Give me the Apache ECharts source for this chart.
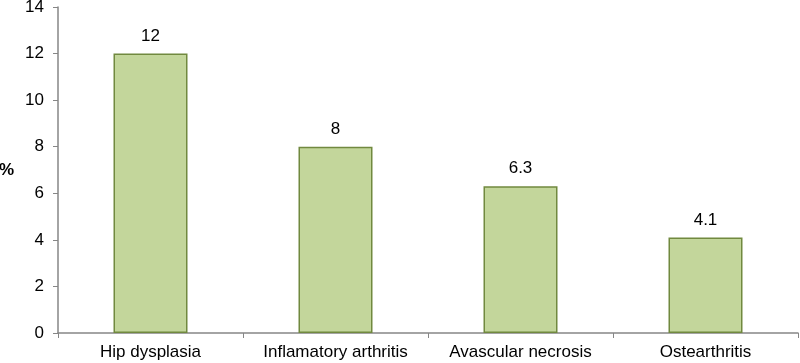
<!DOCTYPE html>
<html>
<head>
<meta charset="utf-8">
<script src="https://cdn.jsdelivr.net/npm/echarts@6/dist/echarts.min.js"></script>
<style>
  html, body { margin: 0; padding: 0; background: #fff; }
  #chart { width: 800px; height: 363px; }
</style>
</head>
<body>
<div id="chart"></div>
<script>
const categories = ['Hip dysplasia', 'Inflamatory arthritis', 'Avascular necrosis', 'Ostearthritis'];
const values = [12, 8, 6.3, 4.1];
const yTicks = { min: 0, max: 14, interval: 2 };

const axisColor = '#868686';
const fontFamily = 'Liberation Sans, Arial, sans-serif';

let chart = echarts.init(document.getElementById('chart'));
chart.setOption({
  animation: false,
  backgroundColor: '#fff',
  textStyle: { fontFamily: fontFamily },
  grid: { left: 58, right: 2, top: 7, bottom: 30, containLabel: false, outerBoundsMode: 'none' },
  xAxis: {
    type: 'category',
    data: categories,
    axisLine: { lineStyle: { color: axisColor, width: 1.5 } },
    axisTick: { show: true, interval: 0, alignWithLabel: false, length: 5, lineStyle: { color: axisColor } },
    axisLabel: { interval: 0, hideOverlap: false, color: '#000', fontSize: 17, margin: 11, fontFamily: fontFamily }
  },
  yAxis: {
    type: 'value',
    min: yTicks.min,
    max: yTicks.max,
    interval: yTicks.interval,
    name: '%',
    nameLocation: 'middle',
    nameRotate: 0,
    nameGap: 44,
    nameTextStyle: { color: '#000', fontSize: 17, fontWeight: 'bold', fontFamily: fontFamily },
    axisLine: { show: true, lineStyle: { color: axisColor, width: 1.5 } },
    axisTick: { show: true, length: 5, lineStyle: { color: axisColor } },
    axisLabel: { color: '#000', fontSize: 17, margin: 14, fontFamily: fontFamily },
    splitLine: { show: false }
  },
  series: [{
    type: 'bar',
    data: values,
    barCategoryGap: '60%',
    itemStyle: { color: '#c3d69b', borderColor: '#71893f', borderWidth: 1.5 },
    label: { show: true, position: 'top', distance: 9, color: '#000', fontSize: 17, fontFamily: fontFamily }
  }]
});
</script>
</body>
</html>
